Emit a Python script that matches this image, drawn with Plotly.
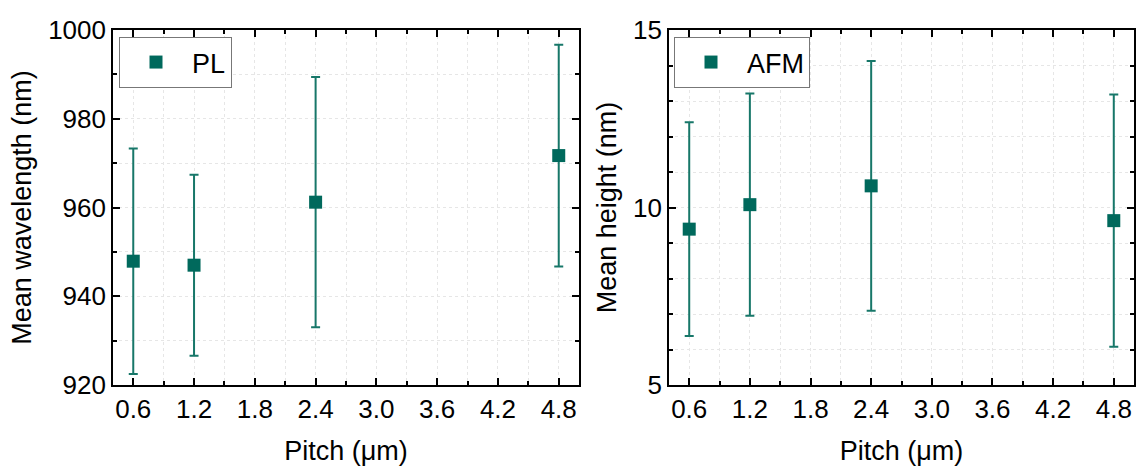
import plotly.graph_objects as go

# Pitch values (µm) shared by both panels
pitch = [0.6, 1.2, 2.4, 4.8]

# PL: mean emission wavelength (nm) and spread
pl_mean = [947.9, 947.0, 961.2, 971.7]
pl_err = [25.4, 20.4, 28.2, 25.0]

# AFM: mean dot height (nm) and spread
afm_mean = [9.39, 10.08, 10.61, 9.63]
afm_err = [3.01, 3.13, 3.52, 3.55]

x_ticks = [0.6, 1.2, 1.8, 2.4, 3.0, 3.6, 4.2, 4.8]
x_ticklabels = ["0.6", "1.2", "1.8", "2.4", "3.0", "3.6", "4.2", "4.8"]

MARKER = "#00695c"
BAR = "#177769"
FONT = "Liberation Sans, Arial, sans-serif"
GRID = "#e6e6e6"
TICK_SIZE = 26
TITLE_SIZE = 27

fig = go.Figure()

fig.add_trace(go.Scatter(
    x=pitch, y=pl_mean, mode="markers", name="PL",
    marker=dict(symbol="square", size=13, color=MARKER, line=dict(width=0)),
    error_y=dict(type="data", array=pl_err, visible=True, color=BAR, thickness=2, width=4.5),
    xaxis="x", yaxis="y", legend="legend",
))
fig.add_trace(go.Scatter(
    x=pitch, y=afm_mean, mode="markers", name="AFM",
    marker=dict(symbol="square", size=13, color=MARKER, line=dict(width=0)),
    error_y=dict(type="data", array=afm_err, visible=True, color=BAR, thickness=2, width=4.5),
    xaxis="x2", yaxis="y2", legend="legend2",
))

common_axis = dict(
    showline=True, linecolor="black", linewidth=1.6, mirror="ticks",
    ticks="inside", ticklen=7, tickwidth=1.6, tickcolor="black",
    showgrid=True, gridcolor=GRID, gridwidth=1, griddash="dot",
    zeroline=False,
    tickfont=dict(family=FONT, size=TICK_SIZE, color="black"),
    automargin=False,
)

xaxis_common = dict(
    common_axis,
    range=[0.4, 5.0],
    tickvals=x_ticks, ticktext=x_ticklabels,
    minor=dict(dtick=0.3, tick0=0.3, ticks="inside", ticklen=4, tickwidth=1.6,
               tickcolor="black", showgrid=True, gridcolor=GRID, griddash="dot"),
    title=dict(text="Pitch (μm)", font=dict(family=FONT, size=TITLE_SIZE, color="black"), standoff=20),
)

left_w = (579 - 113) / 1021
right_start = (669 - 113) / 1021

legend_style = dict(
    xanchor="left", yanchor="top", y=1 - 7 / 355,
    bgcolor="white", bordercolor="#777777", borderwidth=1,
    itemwidth=62,
    font=dict(family=FONT, size=TITLE_SIZE, color="black"),
)

fig.update_layout(
    width=1138, height=466,
    margin=dict(l=113, r=4, t=30, b=81),
    paper_bgcolor="white", plot_bgcolor="white",
    showlegend=True,
    xaxis=dict(xaxis_common, domain=[0, left_w], anchor="y"),
    yaxis=dict(
        common_axis, domain=[0, 1], anchor="x",
        range=[920, 1000], tickvals=[920, 940, 960, 980, 1000],
        minor=dict(dtick=10, ticks="inside", ticklen=4, tickwidth=1.6,
                   tickcolor="black", showgrid=True, gridcolor=GRID, griddash="dot"),
        title=dict(text="Mean wavelength (nm)", font=dict(family=FONT, size=TITLE_SIZE, color="black"), standoff=9),
    ),
    xaxis2=dict(xaxis_common, domain=[right_start, 1], anchor="y2"),
    yaxis2=dict(
        common_axis, domain=[0, 1], anchor="x2",
        range=[5, 15], tickvals=[5, 10, 15],
        minor=dict(dtick=1, ticks="inside", ticklen=4, tickwidth=1.6,
                   tickcolor="black", showgrid=True, gridcolor=GRID, griddash="dot"),
        title=dict(text="Mean height (nm)", font=dict(family=FONT, size=TITLE_SIZE, color="black"), standoff=9),
    ),
    legend=dict(legend_style, x=(119 - 113) / 1021),
    legend2=dict(legend_style, x=(674 - 113) / 1021),
)

fig.write_html("out.html")
